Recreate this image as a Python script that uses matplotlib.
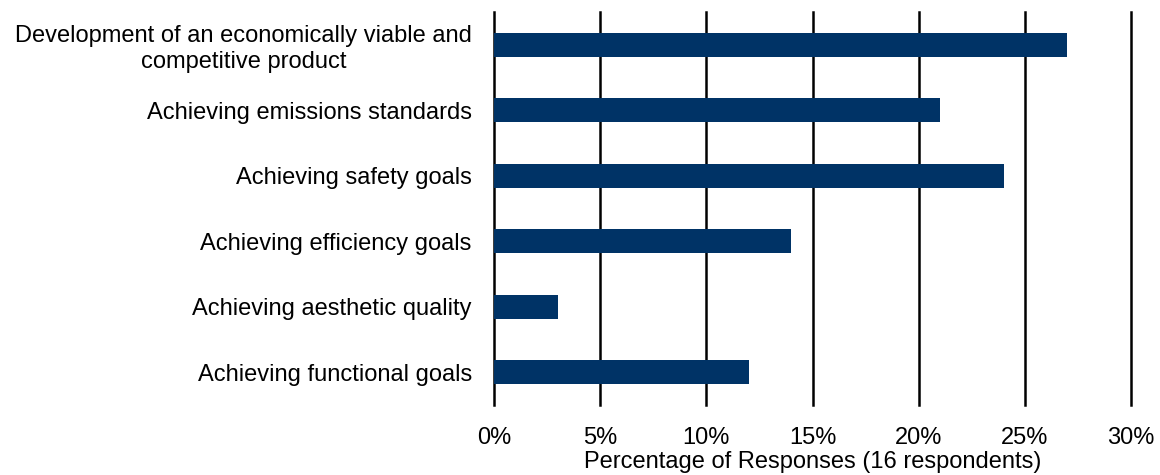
import matplotlib
matplotlib.use("Agg")
import matplotlib.pyplot as plt
from matplotlib.ticker import FuncFormatter

categories = [
    "Development of an economically viable and\ncompetitive product",
    "Achieving emissions standards",
    "Achieving safety goals",
    "Achieving efficiency goals",
    "Achieving aesthetic quality",
    "Achieving functional goals",
]
values = [27, 21, 24, 14, 3, 12]
xticks = [0, 5, 10, 15, 20, 25, 30]

plt.rcParams['font.family'] = ['Liberation Sans', 'DejaVu Sans']

fig = plt.figure(figsize=(11.6, 4.75), dpi=100)
ax = fig.add_axes([0.4259, 0.1474, 0.5491, 0.8273])

pos = list(range(len(categories)))
ax.barh(pos, values, height=0.37, color="#003366", zorder=3)
ax.set_ylim(len(categories) - 0.5, -0.5)
ax.set_xlim(0, 30)
ax.set_xticks(xticks)
ax.xaxis.set_major_formatter(FuncFormatter(lambda v, p: f"{int(v)}%"))
ax.set_yticks(pos)
ax.set_yticklabels(categories, fontsize=17)
for lbl in ax.get_yticklabels():
    lbl.set_horizontalalignment('right')
    lbl.set_multialignment('center')
ax.tick_params(axis='x', labelsize=17, length=0, pad=16)
ax.tick_params(axis='y', length=0, pad=16)
ax.grid(axis='x', color='black', linewidth=1.8, zorder=0)
for gl in ax.get_xgridlines():
    gl.set_clip_on(False)
for s in ax.spines.values():
    s.set_visible(False)
ax.set_xlabel("Percentage of Responses (16 respondents)", fontsize=17, labelpad=1)

fig.savefig("out.png", dpi=100)
